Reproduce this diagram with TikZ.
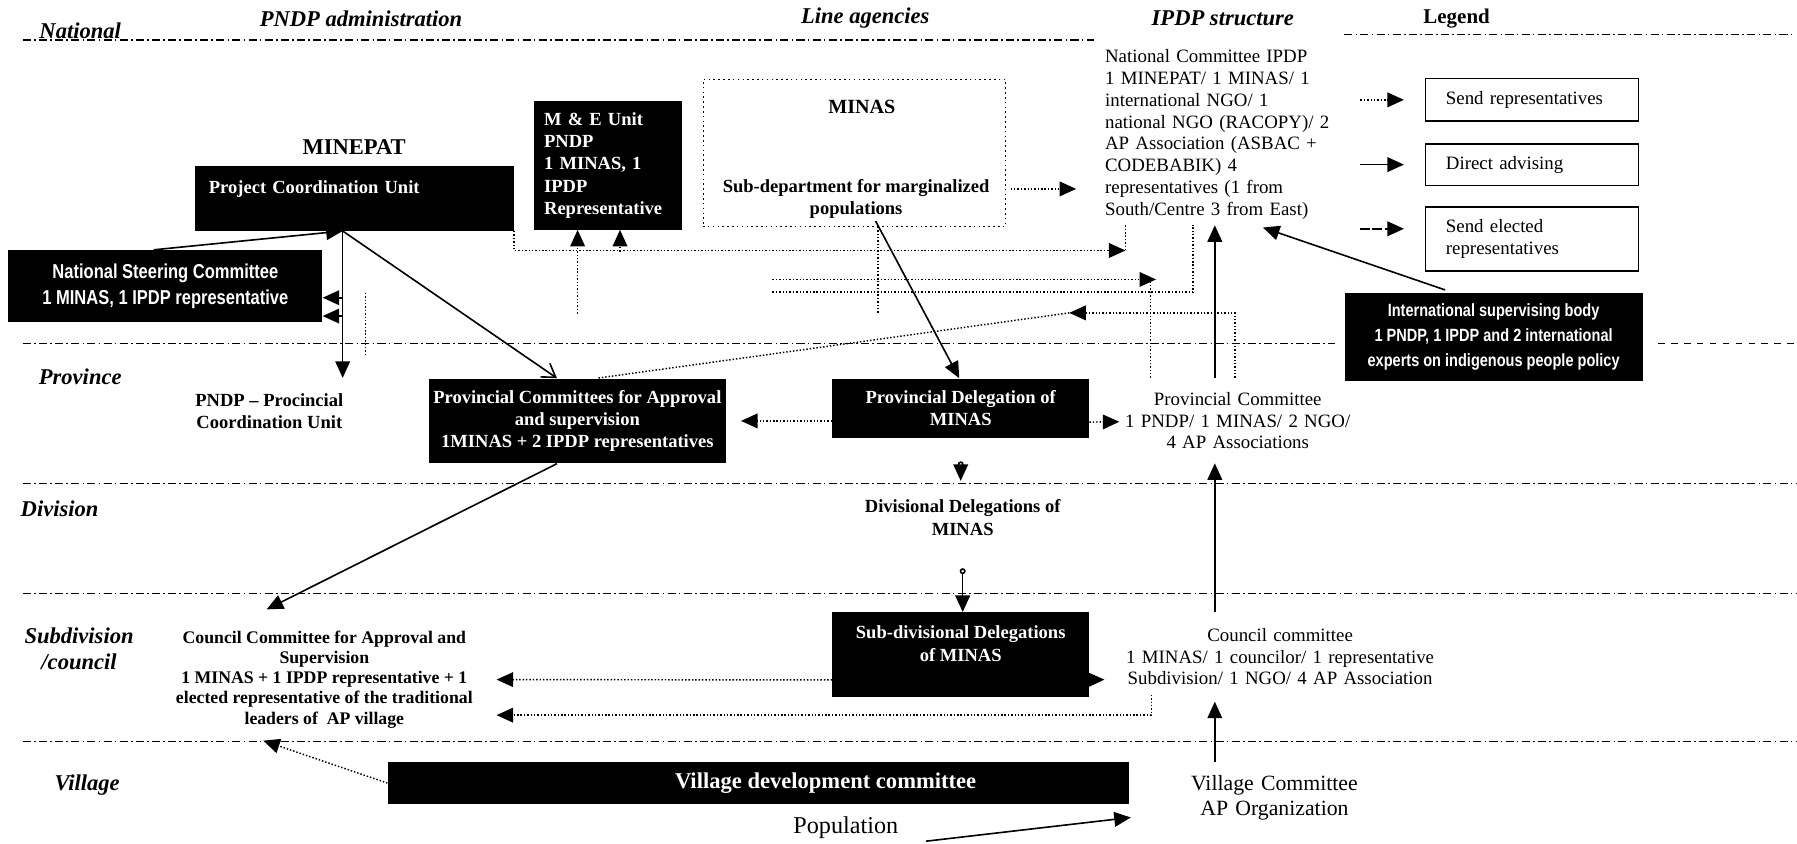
\documentclass[tikz,border=0pt]{standalone}
\usepackage{fontspec}
\setmainfont{Liberation Serif}
\newfontfamily\narrowsans[FakeStretch=0.82]{Liberation Sans}
\usetikzlibrary{arrows.meta,calc}

\begin{document}
\begin{tikzpicture}[x=0.025cm,y=-0.025cm,
  hd/.style={font=\fontsize{14}{16}\selectfont\bfseries\itshape,inner sep=0pt},
  blk/.style={fill=black,text=white,font=\fontsize{11.5}{13.9}\selectfont\bfseries,align=center,inner sep=0pt,anchor=north west},
  hol/.style={font=\fontsize{11.5}{13.9}\selectfont\bfseries,align=center,inner sep=0pt},
  ipd/.style={font=\fontsize{11.7}{13.5}\selectfont,align=center,inner sep=0pt},
  wh/.style 2 args={minimum width=#1*0.025cm,minimum height=#2*0.025cm},
  lg/.style={draw,line width=0.9pt,anchor=north west,align=left,text width=3.75cm,inner xsep=0.45cm,inner ysep=0pt,font=\fontsize{11.7}{13.5}\selectfont},
  lvl/.style={line width=0.8pt,dash pattern=on 5pt off 2pt on 1pt off 2pt},
  adv/.style={line width=1pt,-{Triangle[length=3.6mm,width=3.2mm]}},
  rep/.style={line width=0.9pt,dash pattern=on 0.9pt off 1.2pt,-{Triangle[length=3.6mm,width=3.2mm]}},
  dotline/.style={line width=0.9pt,dash pattern=on 0.9pt off 1.2pt},
  sel/.style={line width=1pt,dash pattern=on 6pt off 1.5pt,-{Triangle[length=3.6mm,width=3.2mm]}},
  opn/.style={line width=1pt,-{Straight Barb[length=2.8mm,width=3.6mm]}},
  sht/.style={line width=1pt,{Circle[open,length=1.3mm]}-{Triangle[length=3.6mm,width=3.2mm]}}]

\useasboundingbox (0,0) rectangle (1568,736);

% column and level titles
\node[hd] (hnat) at (70,27) {National};
\node[hd] (hpndp) at (315,16) {PNDP administration};
\node[hd] (hline) at (755,16) {Line agencies};
\node[hd] (hipdp) at (1067,16) {IPDP structure};
\node[font=\fontsize{13}{15}\selectfont\bfseries,inner sep=0pt] (hleg) at (1271,16) {Legend};
\node[hd] (hprov) at (70,329) {Province};
\node[hd] (hdiv) at (52,444) {Division};
\node[hd,align=center] (hsub) at (69,566) {Subdivision\\/council};
\node[hd] (hvil) at (76,685) {Village};

% level lines
\draw[lvl] (20,35) -- (955,35);
\draw[lvl] (1173,30) -- (1565,30);
\draw[lvl] (20,300) -- (1165,300);
\draw[line width=0.8pt,dash pattern=on 4pt off 4pt] (1447,300) -- (1568,300);
\draw[lvl] (20,422) -- (1568,422);
\draw[lvl] (20,518) -- (1568,518);
\draw[lvl] (20,647) -- (1568,647);

% PNDP administration
\node[hol,font=\fontsize{14}{16}\selectfont\bfseries] (minepat) at (309,128) {MINEPAT};
\node[blk,wh={278}{56},align=left,text width=6.35cm,inner xsep=0.3cm] (pcu) at (170,145) {Project Coordination Unit\\\mbox{}};
\node[blk,wh={129}{112},align=left,text width=2.8cm,inner xsep=0.2125cm] (me) at (466,88) {M \& E Unit\\PNDP\\1 MINAS, 1\\IPDP\\Representative};
\node[blk,wh={274}{63},font=\narrowsans\fontsize{12.5}{15.6}\selectfont\bfseries] (nsc) at (7,218) {National Steering Committee\\1 MINAS, 1 IPDP representative};
\node[hol,wh={120}{38}] (pndpprov) at (235,359) {PNDP -- Procincial\\Coordination Unit};
\node[blk,wh={259}{74}] (provcom) at (374,330) {Provincial Committees for Approval\\and supervision\\1MINAS + 2 IPDP representatives};
\node[hol,font=\fontsize{11}{12.45}\selectfont\bfseries,wh={300}{106}] (councom) at (283,593) {Council Committee for Approval and\\Supervision\\1 MINAS + 1 IPDP representative + 1\\elected representative of the traditional\\leaders of~ AP village};
\node[blk,wh={647}{36},font=\fontsize{14}{16}\selectfont\bfseries] (vdc) at (338,665) {\hspace*{2.93cm}Village development committee};
\node[inner sep=0pt,font=\fontsize{15}{17}\selectfont] (pop) at (738,722) {Population};

% line agencies
\node[draw,line width=0.6pt,dash pattern=on 1pt off 2pt,inner sep=0pt,anchor=north west,wh={264}{128}] (minasbox) at (613,69) {};
\node[hol,font=\fontsize{12.5}{15}\selectfont\bfseries] (minas) at (752,93) {MINAS};
\node[hol] (subdep) at (747,173.5) {Sub-department for marginalized\\populations};
\node[blk,wh={224}{52}] (provdel) at (726,330) {Provincial Delegation of\\MINAS};
\node[hol,wh={200}{44}] (divdel) at (840,451.5) {Divisional Delegations of\\MINAS};
\node[blk,wh={224}{74}] (subdiv) at (726,534) {Sub-divisional Delegations\\of MINAS\\\mbox{}};

% IPDP structure
\node[ipd,align=left,anchor=north west,text width=5.4cm,minimum height=158*0.025cm] (natcom) at (964,38) {National Committee IPDP\\1 MINEPAT/ 1 MINAS/ 1\\international NGO/ 1\\national NGO (RACOPY)/ 2\\AP Association (ASBAC +\\CODEBABIK) 4\\representatives (1 from\\South/Centre 3 from East)};
\node[blk,wh={260}{77},font=\narrowsans\fontsize{11}{15.6}\selectfont\bfseries] (intl) at (1173,255) {International supervising body\\1 PNDP, 1 IPDP and 2 international\\experts on indigenous people policy};
\node[ipd,text width=5cm,wh={200}{74}] (provipdp) at (1080,367) {Provincial Committee\\1 PNDP/ 1 MINAS/ 2 NGO/\\4 AP Associations};
\node[ipd,text width=6.75cm,wh={270}{78}] (councipdp) at (1117,573) {Council committee\\1 MINAS/ 1 councilor/ 1 representative\\Subdivision/ 1 NGO/ 4 AP Association};
\node[ipd,font=\fontsize{13.5}{15.6}\selectfont,text width=4cm,wh={160}{62}] (vilcom) at (1112,696) {Village Committee\\AP Organization};

% legend
\node[lg,wh={186}{37}] (leg1) at (1243,68) {Send representatives};
\node[lg,wh={186}{36}] (leg2) at (1243,125) {Direct advising};
\node[lg,wh={186}{56}] (leg3) at (1243,180) {Send elected\\representatives};
\draw[rep] ($(leg1.west)+(-56,0)$) -- ($(leg1.west)+(-18,0)$);
\draw[adv] ($(leg2.west)+(-56,0)$) -- ($(leg2.west)+(-18,0)$);
\draw[sel] ($(leg3.west)+(-56,-9)$) -- ($(leg3.west)+(-18,-9)$);

% direct advising
\coordinate (hub) at ($(pcu.south west)+(129,0)$);
\coordinate (axis) at ($(natcom.south west)+(96,0)$);
\draw[adv] ($(nsc.north west)+(127,0)$) -- (hub);
\draw[adv] (hub) -- ($(hub |- pndpprov.north)+(0,-10)$);
\draw[adv] ($(hub |- nsc.east)+(0,10)$) -- ($(nsc.east)+(0,10)$);
\draw[adv] ($(hub |- nsc.east)+(0,26)$) -- ($(nsc.east)+(0,26)$);
\draw[opn] (hub) -- ($(provcom.north west)+(112,0)$);
\draw[adv] ($(provcom.south west)+(112,0)$) -- ($(councom.north west)+(100,-8)$);
\draw[adv] ($(minasbox.south west)+(151,-5)$) -- ($(provdel.north west)+(111,0)$);
\draw[sht,shorten <=0.5cm,shorten >=0.24cm] (provdel.south) -- (provdel.south |- divdel.north);
\draw[sht,shorten <=0.55cm] (divdel.south) -- (divdel.south |- subdiv.north);
\draw[adv] (axis |- vilcom.north) -- (axis |- councipdp.south);
\draw[adv] (axis |- councipdp.north) -- (axis |- provipdp.south);
\draw[adv] (axis |- provipdp.north) -- (axis);
\draw[adv] ($(intl.north west)+(88,-2)$) -- ($(natcom.south west)+(138,2)$);
\draw[adv] ($(pop.east)+(24,12)$) -- ($(vilcom.south west)+(-45,-14)$);

% representatives
\coordinate (w1) at ($(minasbox.south west)+(61,46)$);
\coordinate (w2) at ($(minasbox.south west)+(61,57)$);
\coordinate (w3) at ($(provcom.north west)+(559,-57)$);
\coordinate (v1) at ($(provipdp.north west)+(24,0)$);
\coordinate (m1) at ($(minasbox.south west)+(153,0)$);
\draw[rep] (pcu.south east) |- ($(natcom.south west)+(18,22)$) coordinate (c1);
\draw[dotline] (c1) -- (c1 |- natcom.south);
\draw[rep] ($(me.south west)+(38,73)$) -- ($(me.south west)+(38,0)$);
\draw[rep] ($(me.south west)+(75,19)$) -- ($(me.south west)+(75,0)$);
\draw[rep,shorten >=0.625cm] ($(minasbox.south east)+(4,-33)$) -- ($(natcom.west |- minasbox.south east)+(0,-33)$);
\draw[dotline] (m1) -- (m1 |- w3);
\draw[dotline] (v1) -- (v1 |- w1);
\draw[rep] (w1) -- ($(v1 |- w1)+(5,0)$);
\draw[dotline] (w2) -| ($(natcom.south west)+(77,0)$);
\draw[rep] ($(provipdp.north west)+(98,0)$) |- (w3);
\draw[dotline] (w3) -- ($(provcom.north west)+(147,0)$);
\draw[dotline] ($(hub)+(20,54)$) -- ($(hub)+(20,110)$);
\draw[rep] ($(provdel.west)+(0,11)$) -- ($(provcom.east)+(13,0)$);
\draw[rep] ($(provdel.east)+(0,12)$) -- ($(provipdp.west)+(-3,1)$);
\draw[rep] ($(subdiv.west)+(0,22)$) -- (councom.east);
\draw[rep] ($(subdiv.east)+(-14,22)$) -- ($(councipdp.west)+(-18,20)$);
\draw[rep] ($(councipdp.south west)+(23,-6)$) |- ($(councom.east)+(0,31)$);
\draw[rep] (vdc.west) -- ($(councom.south west)+(97,0)$);

\end{tikzpicture}
\end{document}
